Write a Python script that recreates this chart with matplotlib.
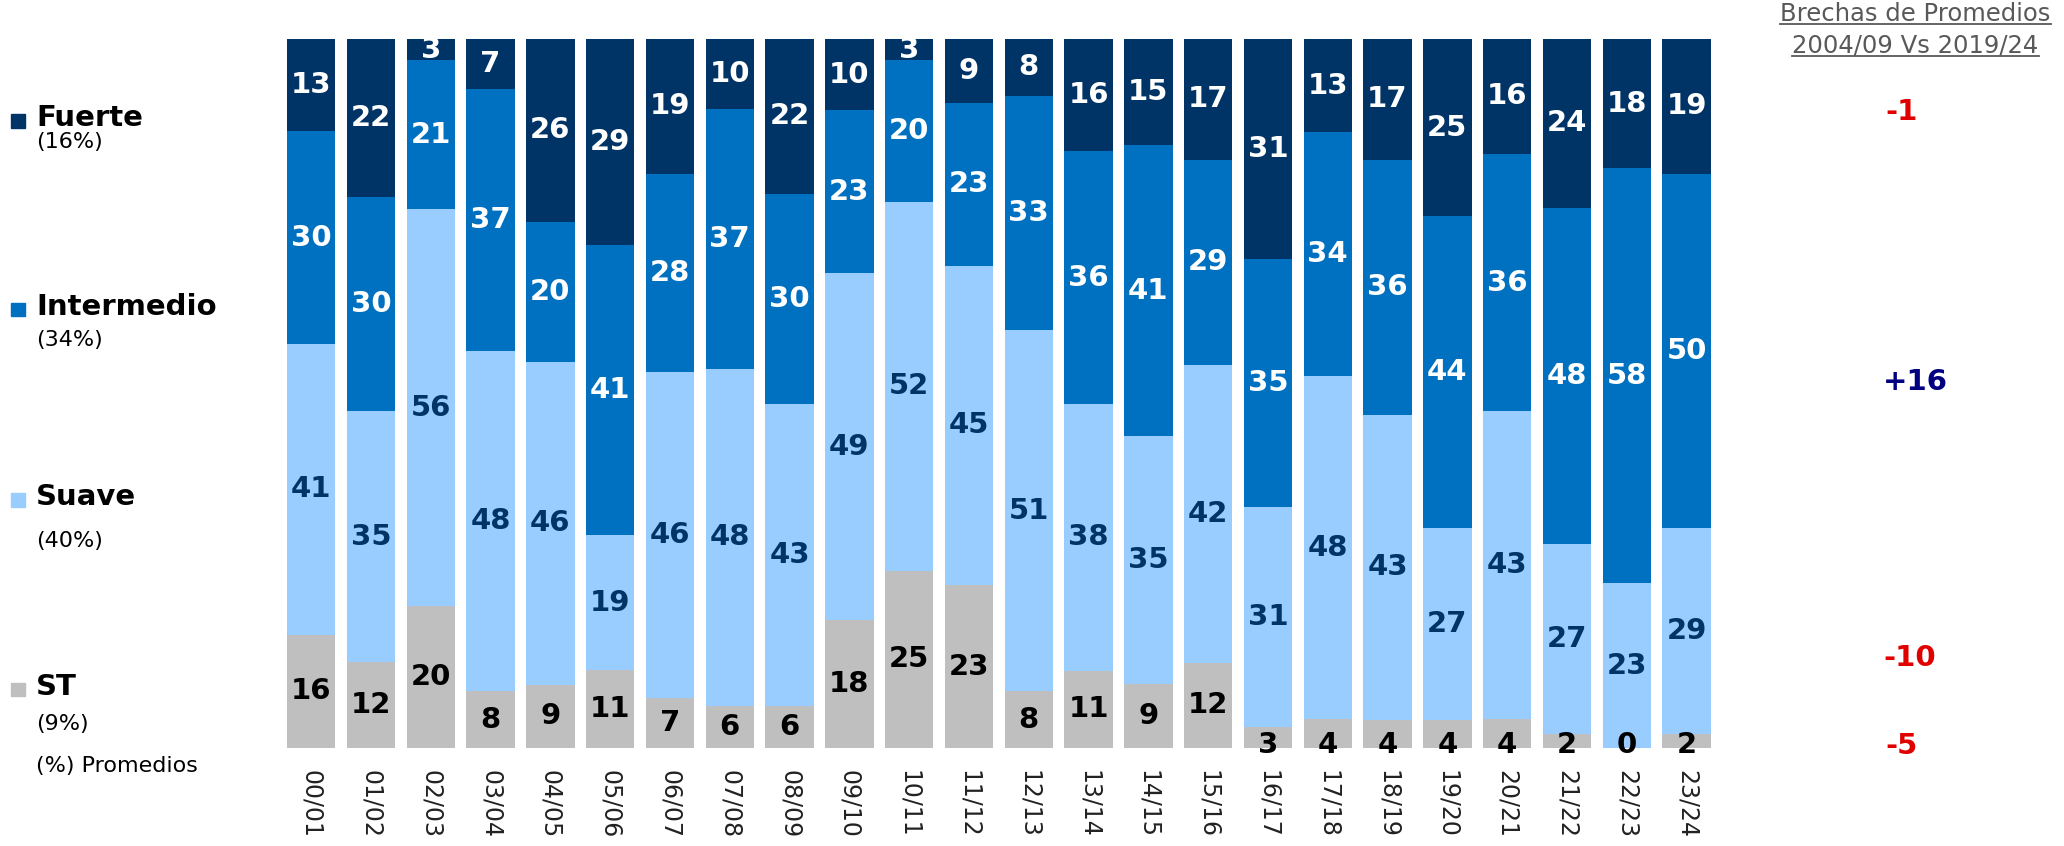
import matplotlib
matplotlib.use("Agg")
import matplotlib.pyplot as plt
import numpy as np
from matplotlib.patches import Rectangle
from matplotlib.lines import Line2D

temporadas = ['00/01', '01/02', '02/03', '03/04', '04/05', '05/06', '06/07', '07/08',
              '08/09', '09/10', '10/11', '11/12', '12/13', '13/14', '14/15', '15/16',
              '16/17', '17/18', '18/19', '19/20', '20/21', '21/22', '22/23', '23/24']
st = [16, 12, 20, 8, 9, 11, 7, 6, 6, 18, 25, 23, 8, 11, 9, 12, 3, 4, 4, 4, 4, 2, 0, 2]
suave = [41, 35, 56, 48, 46, 19, 46, 48, 43, 49, 52, 45, 51, 38, 35, 42, 31, 48, 43, 27, 43, 27, 23, 29]
intermedio = [30, 30, 21, 37, 20, 41, 28, 37, 30, 23, 20, 23, 33, 36, 41, 29, 35, 34, 36, 44, 36, 48, 58, 50]
fuerte = [13, 22, 3, 7, 26, 29, 19, 10, 22, 10, 3, 9, 8, 16, 15, 17, 31, 13, 17, 25, 16, 24, 18, 19]

series = ['Fuerte', 'Intermedio', 'Suave', 'ST']
promedios = ['(16%)', '(34%)', '(40%)', '(9%)']
brechas = ['-1', '+16', '-10', '-5']

colores = {'ST': '#BFBFBF', 'Suave': '#99CCFF', 'Intermedio': '#0070C0', 'Fuerte': '#003366'}
col_txt = {'ST': 'black', 'Suave': '#003366', 'Intermedio': 'white', 'Fuerte': 'white'}

plt.rcParams['font.family'] = ['DejaVu Sans']

fig = plt.figure(figsize=(20.64, 8.46), dpi=100)
ax = fig.add_axes([0.1363, 0.1158, 0.6953, 0.838])

x = np.arange(len(temporadas))
datos = {'ST': np.array(st), 'Suave': np.array(suave),
         'Intermedio': np.array(intermedio), 'Fuerte': np.array(fuerte)}
total = sum(datos.values()).astype(float)

base = np.zeros(len(x))
for nombre in ['ST', 'Suave', 'Intermedio', 'Fuerte']:
    alto = datos[nombre] / total * 100
    ax.bar(x, alto, bottom=base, width=0.81, color=colores[nombre], linewidth=0)
    for i in range(len(x)):
        yc = base[i] + alto[i] / 2
        if nombre == 'ST' and datos[nombre][i] < 5:
            yc = 0.4
        ax.text(x[i], yc, str(datos[nombre][i]), ha='center', va='center',
                fontsize=21, fontweight='bold', color=col_txt[nombre])
    base += alto

ax.set_xlim(-0.5, len(x) - 0.5)
ax.set_ylim(0, 100)
ax.set_xticks(x)
ax.set_xticklabels(temporadas, rotation=270, fontsize=17, color='#222222')
ax.tick_params(axis='x', length=0, pad=16)
ax.set_yticks([])
for s in ax.spines.values():
    s.set_visible(False)

# leyenda a la izquierda
ley_y = [0.860, 0.637, 0.412, 0.188]
sub_y = [0.832, 0.598, 0.360, 0.144]
for nombre, prom, yy, ys in zip(series, promedios, ley_y, sub_y):
    fig.add_artist(Rectangle((0.0055, yy - 0.011), 0.0066, 0.016,
                             transform=fig.transFigure, color=colores[nombre]))
    fig.text(0.0175, yy, nombre, fontsize=21, fontweight='bold', va='center', ha='left')
    fig.text(0.0175, ys, prom, fontsize=16, va='center', ha='left')
fig.text(0.0175, 0.094, '(%) Promedios', fontsize=16, va='center', ha='left')

# brechas a la derecha
t1 = fig.text(0.928, 0.984, 'Brechas de Promedios', fontsize=17.5, color='#595959',
              ha='center', va='center')
t2 = fig.text(0.928, 0.946, '2004/09 Vs 2019/24', fontsize=17.5, color='#595959',
              ha='center', va='center')
fig.canvas.draw()
r = fig.canvas.get_renderer()
for t in (t1, t2):
    bb = t.get_window_extent(r).transformed(fig.transFigure.inverted())
    fig.add_artist(Line2D([bb.x0, bb.x1], [bb.y0 + 0.002, bb.y0 + 0.002],
                          transform=fig.transFigure, color='#595959', linewidth=1.3))

br_pos = [(0.9215, 0.868), (0.928, 0.549), (0.925, 0.222), (0.9215, 0.118)]
br_col = ['#E00000', '#000080', '#E00000', '#E00000']
for txt, (bx, by), c in zip(brechas, br_pos, br_col):
    fig.text(bx, by, txt, fontsize=21, fontweight='bold', color=c, ha='center', va='center')

fig.savefig('out.png', dpi=100)
